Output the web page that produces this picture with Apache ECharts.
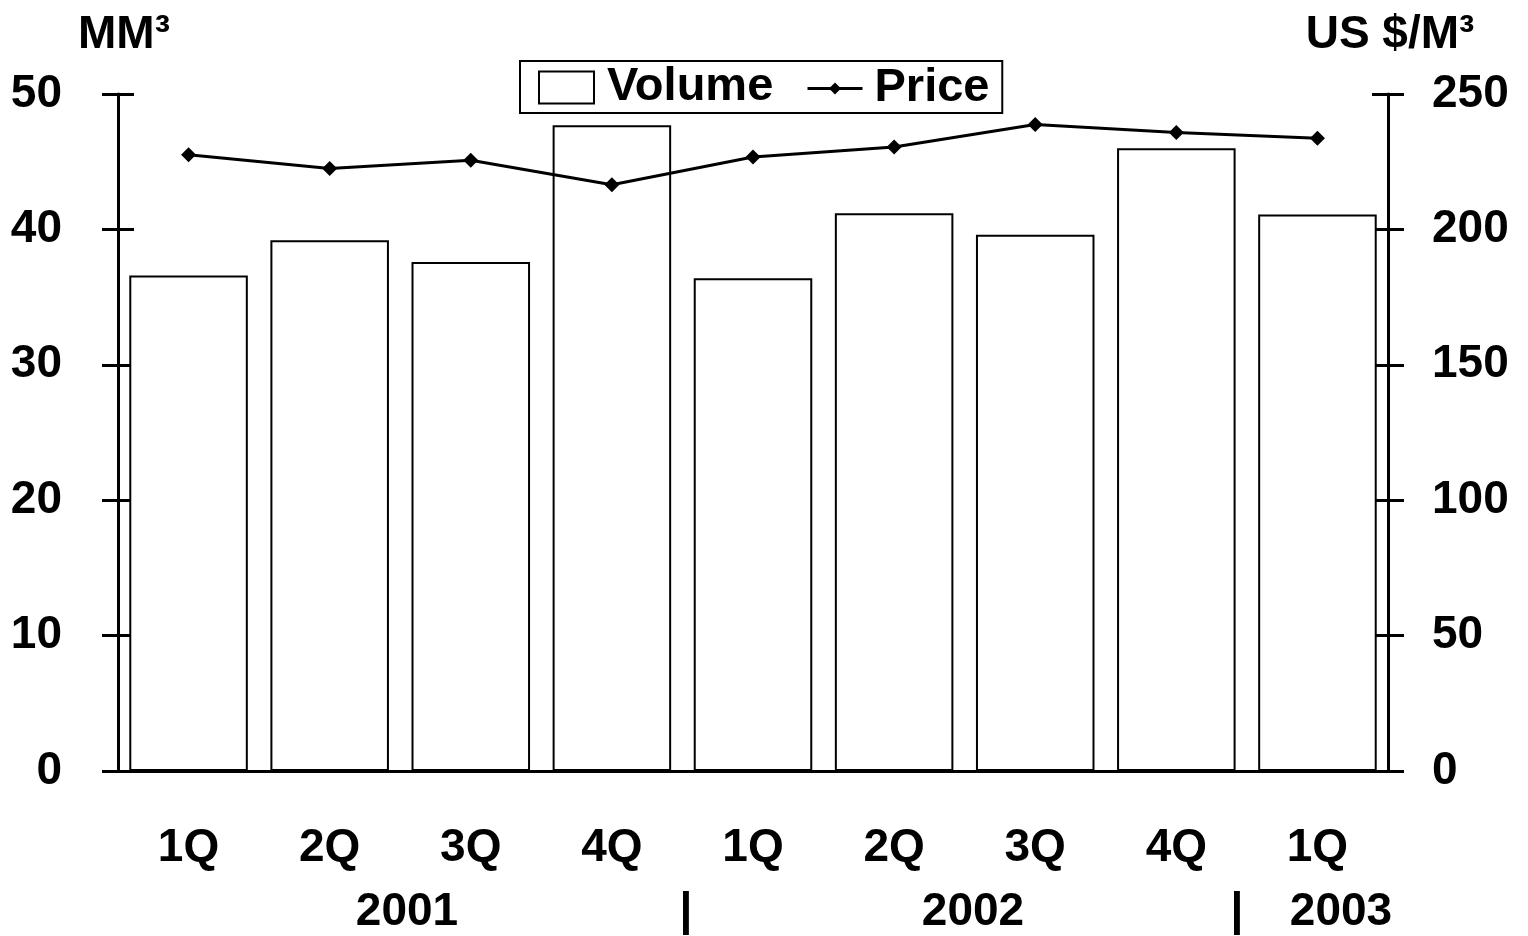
<!DOCTYPE html>
<html>
<head>
<meta charset="utf-8">
<script src="https://cdn.jsdelivr.net/npm/echarts@6/dist/echarts.min.js"></script>
<style>
html,body{margin:0;padding:0;background:#fff;}
#chart{width:1528px;height:936px;}
</style>
</head>
<body>
<div id="chart"></div>
<script>
const quarters = ['1Q','2Q','3Q','4Q','1Q','2Q','3Q','4Q','1Q'];
const volume = [36.6, 39.2, 37.6, 47.7, 36.4, 41.2, 39.6, 46.0, 41.1];
const price = [227.6, 222.5, 225.5, 216.5, 226.7, 230.4, 238.7, 235.8, 233.7];
const leftTicks = {min: 0, max: 50, interval: 10};
const rightTicks = {min: 0, max: 250, interval: 50};
const yearLabels = ['2001', '|', '2002', '|', '2003'];
const yearLabelX = [407, 686, 973, 1237, 1341];

const FONT = "'Liberation Sans', Arial, sans-serif";
const FS = 46;
const txt = {fontFamily: FONT, fontWeight: 'bold', fontSize: FS, color: '#000'};

const chart = echarts.init(document.getElementById('chart'), null, {renderer: 'canvas'});

function yAx(pos, ticks, inside, extra) {
  return Object.assign({
    type: 'value', position: pos, min: ticks.min, max: ticks.max, interval: ticks.interval,
    splitLine: {show: false},
    axisLine: {show: !inside, lineStyle: {color: '#000', width: 3}},
    axisTick: {show: true, inside: inside, length: 16, lineStyle: {color: '#000', width: 3}},
    axisLabel: {show: !inside}
  }, extra || {});
}

chart.setOption({
  animation: false,
  backgroundColor: '#fff',
  grid: {left: 118, right: 140, top: 94, bottom: 165, containLabel: false},
  legend: [
    {
      data: [{name: 'Volume', icon: 'rect'}],
      left: 520, top: 61,
      orient: 'horizontal',
      padding: [3, 229, 2, 18],
      borderColor: '#000', borderWidth: 2,
      itemWidth: 55, itemHeight: 32,
      selectedMode: false,
      itemStyle: {color: '#fff', borderColor: '#000', borderWidth: 2},
      textStyle: Object.assign({}, txt, {fontSize: 47, padding: [0, 0, 0, 8]}),
      z: 1
    },
    {
      data: ['Price'],
      left: 806, top: 65,
      padding: 0,
      itemWidth: 55, itemHeight: 15,
      selectedMode: false,
      lineStyle: {color: '#000', width: 3},
      itemStyle: {color: '#000'},
      textStyle: Object.assign({}, txt, {fontSize: 47, padding: [0, 0, 0, 7]}),
      z: 1
    }
  ],
  xAxis: [{
    type: 'category',
    data: quarters,
    axisLine: {show: true, lineStyle: {color: '#000', width: 3}},
    axisTick: {show: false},
    axisLabel: Object.assign({}, txt, {margin: 54})
  }],
  yAxis: [
    yAx('left', leftTicks, false, {
      name: 'MM³', nameLocation: 'end', nameGap: 36,
      nameTextStyle: Object.assign({}, txt, {padding: [0, 0, 0, 12]}),
      axisLabel: Object.assign({}, txt, {margin: 56})
    }),
    yAx('right', rightTicks, false, {
      name: 'US $/M³', nameLocation: 'end', nameGap: 36,
      nameTextStyle: Object.assign({}, txt, {padding: [0, 0, 0, 4]}),
      axisLabel: Object.assign({}, txt, {margin: 44, align: 'left'})
    }),
    yAx('left', leftTicks, true),
    yAx('right', rightTicks, true)
  ],
  graphic: yearLabels.map((t, i) => ({
    type: 'text',
    x: yearLabelX[i], y: 912,
    style: {text: t, font: 'bold ' + FS + 'px ' + FONT, fill: '#000', align: 'center', verticalAlign: 'middle'}
  })),
  series: [
    {
      name: 'Volume', type: 'bar', xAxisIndex: 0, yAxisIndex: 0,
      data: volume,
      barCategoryGap: '16%',
      itemStyle: {color: '#fff', borderColor: '#000', borderWidth: 2},
      z: 2
    },
    {
      name: 'Price', type: 'line', xAxisIndex: 0, yAxisIndex: 1,
      data: price,
      symbol: 'diamond', symbolSize: 15,
      lineStyle: {color: '#000', width: 3},
      itemStyle: {color: '#000'},
      z: 3
    }
  ]
});
</script>
</body>
</html>
